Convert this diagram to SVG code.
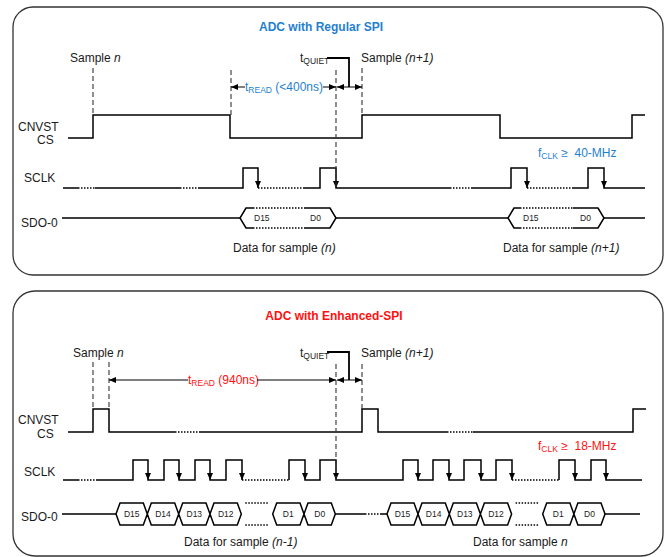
<svg xmlns="http://www.w3.org/2000/svg" xmlns:xlink="http://www.w3.org/1999/xlink" width="665" height="557" viewBox="0 0 665 557">
<style>
text{font-family:"Liberation Sans",Arial,sans-serif;fill:#1a1a1a}
.lbl{font-size:12px}
.sm{font-size:8.5px}
.ttl{font-size:12px;font-weight:bold}
.blue{fill:#1f7fd0}
.red{fill:#ff1010}
.panel{fill:#fff;stroke:#333;stroke-width:1.3}
.wave{fill:none;stroke:#000;stroke-width:1.5}
.dot{fill:none;stroke:#000;stroke-width:1.5;stroke-dasharray:1.5 1.5}
.dash{fill:none;stroke:#333;stroke-width:1.1;stroke-dasharray:5 3}
.dim{fill:none;stroke:#000;stroke-width:1.2}
.lead{fill:none;stroke:#000;stroke-width:1.8}
.ah{fill:#000}
</style>
<defs>
<path id="arrD" class="ah" d="M-3,-7 L3,-7 L0,0 z"/>
<path id="arrL" class="ah" d="M0,0 L7,-3 L7,3 z"/>
<path id="arrR" class="ah" d="M0,0 L-7,-3 L-7,3 z"/>
</defs>
<rect width="665" height="557" fill="#fff"/>

<!-- ===== Top panel: Regular SPI ===== -->
<g id="panel-regular">
<rect class="panel" x="13" y="7" width="650" height="268" rx="20"/>
<text class="ttl blue" x="321" y="31" text-anchor="middle">ADC with Regular SPI</text>
<g id="reg-labels">
<text class="lbl" x="18" y="131">CNVST</text>
<text class="lbl" x="37" y="144">CS</text>
<text class="lbl" x="24" y="182">SCLK</text>
<text class="lbl" x="21" y="227">SDO-0</text>
<text class="lbl" x="70" y="62">Sample <tspan font-style="italic">n</tspan></text>
<text class="lbl" x="361" y="62">Sample <tspan font-style="italic">(n+1)</tspan></text>
<text class="lbl" x="300" y="62">t<tspan class="sm" dy="2">QUIET</tspan></text>
<text class="lbl blue" x="245" y="91">t<tspan class="sm" dy="2">READ</tspan><tspan dy="-2"> (&lt;400ns)</tspan></text>
<text class="lbl blue" x="538" y="157">f<tspan class="sm" dy="2">CLK</tspan><tspan dy="-2"> ≥&#160; 40-MHz</tspan></text>
<text class="lbl" x="233" y="252">Data for sample <tspan font-style="italic">(n)</tspan></text>
<text class="lbl" x="503" y="252">Data for sample <tspan font-style="italic">(n+1)</tspan></text>
</g>
<g id="reg-cnvst">
<path class="wave" d="M68,138 H93 V115 H230 V138 H362 V115 H500 V138 H632 V115 H645"/>
</g>
<g id="reg-sclk">
<path class="wave" d="M63,188 H78 M95,188 H180 M198,188 H243 V168 H258 V188 M303,188 H320 V168 H336 V188 H450 M472,188 H511 V168 H527 V188 M573,188 H588 V168 H604 V188 H645"/>
<path class="dot" d="M78,188 H95 M180,188 H198 M258,188 H303 M450,188 H472 M527,188 H573"/>
<use xlink:href="#arrD" x="258" y="188"/>
<use xlink:href="#arrD" x="336" y="188"/>
<use xlink:href="#arrD" x="527" y="188"/>
<use xlink:href="#arrD" x="604" y="188"/>
</g>
<g id="reg-sdo">
<path class="wave" d="M62,218 H240 M336,218 H508 M604,218 H645"/>
<path class="wave" d="M253,208 H246 L240,218 L246,228 H253 M304,208 H330 L336,218 L330,228 H304"/>
<path class="dot" d="M253,208 H304 M253,228 H304"/>
<path class="wave" d="M520,208 H514 L508,218 L514,228 H520 M573,208 H598 L604,218 L598,228 H573"/>
<path class="dot" d="M520,208 H573 M520,228 H573"/>
<text class="sm" x="254" y="221">D15</text>
<text class="sm" x="310" y="221">D0</text>
<text class="sm" x="523" y="221">D15</text>
<text class="sm" x="580" y="221">D0</text>
</g>
</g>

<!-- ===== Bottom panel: Enhanced SPI ===== -->
<g id="panel-enhanced">
<rect class="panel" x="13" y="291" width="650" height="265" rx="22"/>
<text class="ttl red" x="334" y="320" text-anchor="middle">ADC with Enhanced-SPI</text>
<g id="enh-labels">
<text class="lbl" x="18" y="424">CNVST</text>
<text class="lbl" x="37" y="438">CS</text>
<text class="lbl" x="24" y="476">SCLK</text>
<text class="lbl" x="21" y="521">SDO-0</text>
<text class="lbl" x="73" y="357">Sample <tspan font-style="italic">n</tspan></text>
<text class="lbl" x="361" y="357">Sample <tspan font-style="italic">(n+1)</tspan></text>
<text class="lbl" x="300" y="357">t<tspan class="sm" dy="2">QUIET</tspan></text>
<text class="lbl red" x="188" y="384">t<tspan class="sm" dy="2">READ</tspan><tspan dy="-2"> (940ns)</tspan></text>
<text class="lbl red" x="538" y="450">f<tspan class="sm" dy="2">CLK</tspan><tspan dy="-2"> ≥&#160; 18-MHz</tspan></text>
<text class="lbl" x="184" y="546">Data for sample <tspan font-style="italic">(n-1)</tspan></text>
<text class="lbl" x="473" y="546">Data for sample <tspan font-style="italic">n</tspan></text>
</g>
<g id="enh-cnvst">
<path class="wave" d="M68,432 H93 V409 H109 V432 H175 M200,432 H362 V409 H378 V432 H447 M473,432 H633 V409 H646"/>
<path class="dot" d="M175,432 H200 M447,432 H473"/>
</g>
<g id="enh-sclk">
<path class="wave" d="M63,480 H78 M97,480 H133 V460 H148 V480 H164 V460 H179 V480 H195 V460 H210 V480 H226 V460 H242 V480 M289,480 V460 H305 V480 H320 V460 H336 V480 H403 V460 H418 V480 H433 V460 H449 V480 H464 V460 H481 V480 H496 V460 H512 V480 M559,480 V460 H575 V480 H591 V460 H606 V480 H642"/>
<path class="dot" d="M78,480 H97 M242,480 H289 M512,480 H559"/>
<use xlink:href="#arrD" x="148" y="480"/>
<use xlink:href="#arrD" x="179" y="480"/>
<use xlink:href="#arrD" x="210" y="480"/>
<use xlink:href="#arrD" x="242" y="480"/>
<use xlink:href="#arrD" x="305" y="480"/>
<use xlink:href="#arrD" x="336" y="480"/>
<use xlink:href="#arrD" x="418" y="480"/>
<use xlink:href="#arrD" x="449" y="480"/>
<use xlink:href="#arrD" x="481" y="480"/>
<use xlink:href="#arrD" x="512" y="480"/>
<use xlink:href="#arrD" x="575" y="480"/>
<use xlink:href="#arrD" x="606" y="480"/>
</g>
<g id="enh-sdo">
<path class="wave" d="M62,514 H116 M335.3,514 H365 M380,514 H387 M605,514 H640"/>
<path class="dot" d="M365,514 H380"/>
<path class="wave" d="M116,514 L120,503 H143.3 L147.3,514 L143.3,525 H120 Z
 M147.3,514 L151.3,503 H174.7 L178.7,514 L174.7,525 H151.3 Z
 M178.7,514 L182.7,503 H206 L210,514 L206,525 H182.7 Z
 M210,514 L214,503 H237.3 L241.3,514 L237.3,525 H214 Z
 M272.7,514 L276.7,503 H300 L304,514 L300,525 H276.7 Z
 M304,514 L308,503 H331.3 L335.3,514 L331.3,525 H308 Z"/>
<path class="dot" d="M245.3,503 H268.7 M245.3,525 H268.7"/>
<text class="sm" x="131.7" y="517" text-anchor="middle">D15</text>
<text class="sm" x="163" y="517" text-anchor="middle">D14</text>
<text class="sm" x="194.3" y="517" text-anchor="middle">D13</text>
<text class="sm" x="225.7" y="517" text-anchor="middle">D12</text>
<text class="sm" x="288.3" y="517" text-anchor="middle">D1</text>
<text class="sm" x="319.7" y="517" text-anchor="middle">D0</text>
<path class="wave" d="M387,514 L391,503 H414 L418,514 L414,525 H391 Z
 M418,514 L422,503 H445.3 L449.3,514 L445.3,525 H422 Z
 M449.3,514 L453.3,503 H476.4 L480.4,514 L476.4,525 H453.3 Z
 M480.4,514 L484.4,503 H507.6 L511.6,514 L507.6,525 H484.4 Z
 M542.7,514 L546.7,503 H569.9 L573.9,514 L569.9,525 H546.7 Z
 M573.9,514 L577.9,503 H601 L605,514 L601,525 H577.9 Z"/>
<path class="dot" d="M515.6,503 H538.7 M515.6,525 H538.7"/>
<text class="sm" x="402.5" y="517" text-anchor="middle">D15</text>
<text class="sm" x="433.6" y="517" text-anchor="middle">D14</text>
<text class="sm" x="464.8" y="517" text-anchor="middle">D13</text>
<text class="sm" x="496" y="517" text-anchor="middle">D12</text>
<text class="sm" x="558.3" y="517" text-anchor="middle">D1</text>
<text class="sm" x="589.5" y="517" text-anchor="middle">D0</text>
</g>
</g>

<!-- ===== Connectors: timing markers and dimension arrows ===== -->
<g id="connectors">
<path class="dash" d="M93,68 V115 M231,70 V115 M336,70 V188 M362,68 V115"/>
<path class="dim" d="M231,87 H245 M323,87 H336 M337,87 H362"/>
<use xlink:href="#arrL" x="231" y="87"/>
<use xlink:href="#arrR" x="336" y="87"/>
<use xlink:href="#arrL" x="337" y="87"/>
<use xlink:href="#arrR" x="362" y="87"/>
<path class="lead" d="M327,58 H349 V87"/>

<path class="dash" d="M93,362 V409 M109,362 V409 M336,364 V480 M362,364 V409"/>
<path class="dim" d="M109,380 H188 M257,380 H336 M337,380 H362"/>
<use xlink:href="#arrL" x="109" y="380"/>
<use xlink:href="#arrR" x="336" y="380"/>
<use xlink:href="#arrL" x="337" y="380"/>
<use xlink:href="#arrR" x="362" y="380"/>
<path class="lead" d="M327,352 H349 V380"/>
</g>
</svg>
